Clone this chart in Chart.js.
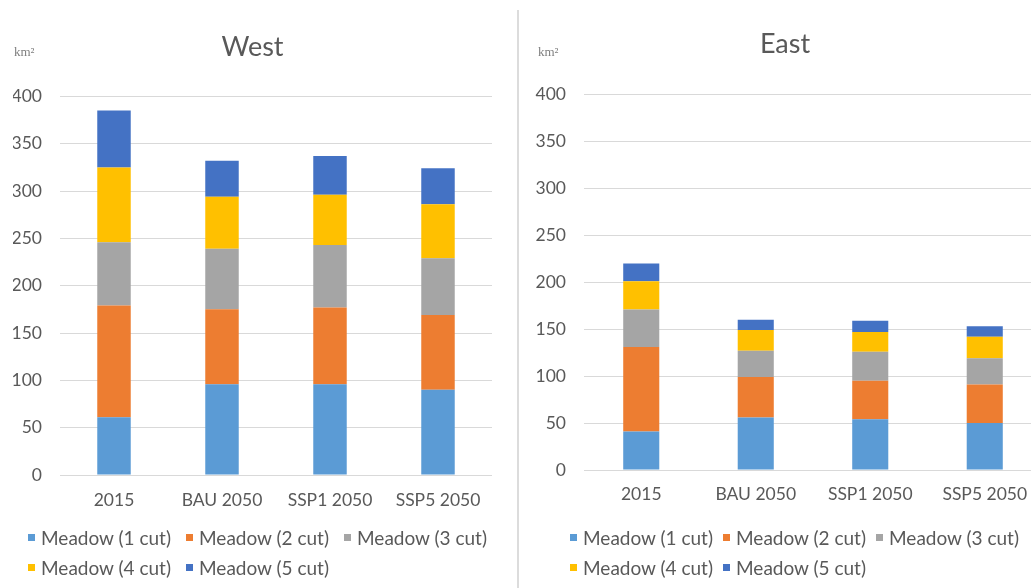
<!DOCTYPE html>
<html>
<head>
<meta charset="utf-8">
<title>Meadow area by cutting regime – West and East</title>
<script src="https://cdn.jsdelivr.net/npm/chart.js@4.4.1/dist/chart.umd.min.js"></script>
<style>
  html, body { margin: 0; padding: 0; background: #fff; overflow: hidden; }
  body { width: 1031px; height: 588px; position: relative; font-family: Lato, "Open Sans", sans-serif; }
  .panel { position: absolute; top: 0; height: 588px; }
  .panel canvas { position: absolute; left: 0; top: 0; }
  .divider { position: absolute; left: 517px; top: 10px; width: 2px; height: 578px; background: #dcdcdc; }
  .legend { position: absolute; display: flex; flex-wrap: wrap; color: #595959; font-size: 19px; }
  .legend .item { display: flex; align-items: center; height: 30px; white-space: nowrap; }
  .legend .box { width: 7px; height: 7px; margin-right: 6px; }
</style>
</head>
<body>
<div class="panel" id="westPanel" style="left:0;width:505px">
  <canvas id="westChart" width="505" height="588"></canvas>
  <div class="legend" id="westLegend" style="left:28px;top:522px;width:478px"></div>
</div>
<div class="divider"></div>
<div class="panel" id="eastPanel" style="left:520px;width:522px">
  <canvas id="eastChart" width="522" height="588"></canvas>
  <div class="legend" id="eastLegend" style="left:50px;top:522px;width:470px"></div>
</div>
<script>
// Scenario categories and meadow types
const categories = ['2015', 'BAU 2050', 'SSP1 2050', 'SSP5 2050'];
const seriesNames = ['Meadow (1 cut)', 'Meadow (2 cut)', 'Meadow (3 cut)', 'Meadow (4 cut)', 'Meadow (5 cut)'];
const seriesColors = ['#5B9BD5', '#ED7D31', '#A5A5A5', '#FFC000', '#4472C4'];

// Area in km² — West
const west1cut = [61, 96, 96, 90];
const west2cut = [118, 79, 81, 79];
const west3cut = [67, 64, 66, 60];
const west4cut = [79, 55, 53, 57];
const west5cut = [60, 38, 41, 38];

// Area in km² — East
const east1cut = [41, 56, 54, 50];
const east2cut = [90, 43, 41, 41];
const east3cut = [40, 28, 31, 28];
const east4cut = [30, 22, 21, 23];
const east5cut = [19, 11, 12, 11];

// Value axis ticks
const yMin = 0;
const yMax = 400;
const yStep = 50;
const unitText = 'km²';

const textGray = '#595959';
const gridGray = '#D9D9D9';

// Small unit caption drawn above the value axis
const unitCaption = {
  id: 'unitCaption',
  afterDraw(chart, args, opts) {
    const ctx = chart.ctx;
    ctx.save();
    ctx.font = '13px "Liberation Serif", serif';
    ctx.fillStyle = '#7f7f7f';
    ctx.textAlign = 'left';
    ctx.textBaseline = 'middle';
    ctx.fillText(opts.text, opts.x, chart.chartArea.top - opts.dy);
    ctx.restore();
  }
};

function buildChart(canvasId, legendId, title, seriesValues, cfg) {
  const datasets = seriesValues.map((vals, i) => ({
    label: seriesNames[i],
    data: vals,
    backgroundColor: seriesColors[i],
    borderWidth: 0,
    barPercentage: cfg.barPct,
    categoryPercentage: 1
  }));

  const chart = new Chart(document.getElementById(canvasId), {
    type: 'bar',
    data: { labels: categories, datasets },
    options: {
      responsive: false,
      animation: false,
      devicePixelRatio: 1,
      layout: { padding: { left: cfg.padLeft, right: cfg.padRight, top: 0, bottom: 0 } },
      plugins: {
        legend: { display: false },
        tooltip: { enabled: false },
        title: {
          display: true,
          text: title,
          color: textGray,
          font: { family: 'Lato', size: 27, weight: 'normal', lineHeight: 1.2 },
          padding: { top: cfg.titleTop, bottom: cfg.titleBottom }
        },
        unitCaption: { text: unitText, x: cfg.unitX, dy: cfg.unitDy }
      },
      scales: {
        x: {
          stacked: true,
          grid: { display: false, drawTicks: false },
          border: { display: false },
          ticks: { color: textGray, font: { family: 'Lato', size: 17.5 }, padding: cfg.xPad, maxRotation: 0, autoSkip: false },
          afterFit(scale) { scale.height = cfg.xHeight; }
        },
        y: {
          stacked: true,
          min: yMin,
          max: yMax,
          grid: { color: gridGray, lineWidth: 1, drawTicks: false },
          border: { display: false },
          ticks: { stepSize: yStep, color: textGray, font: { family: 'Lato', size: 17.5 }, padding: cfg.yPad },
          afterFit(scale) { scale.width = cfg.yWidth; }
        }
      }
    },
    plugins: [unitCaption]
  });

  // Legend built from the chart's datasets
  const legend = document.getElementById(legendId);
  chart.data.datasets.forEach(ds => {
    const item = document.createElement('div');
    item.className = 'item';
    item.style.marginRight = cfg.legendGap + 'px';
    const box = document.createElement('span');
    box.className = 'box';
    box.style.background = ds.backgroundColor;
    const txt = document.createElement('span');
    txt.textContent = ds.label;
    item.appendChild(box);
    item.appendChild(txt);
    legend.appendChild(item);
  });
  return chart;
}

function drawAll() {
  buildChart('westChart', 'westLegend', 'West',
    [west1cut, west2cut, west3cut, west4cut, west5cut],
    { barPct: 0.31, padLeft: 13, padRight: 13, titleTop: 31, titleBottom: 33, xPad: 15, xHeight: 113,
      yPad: 18, yWidth: 47, unitX: 14, unitDy: 44, legendGap: 15 });
  buildChart('eastChart', 'eastLegend', 'East',
    [east1cut, east2cut, east3cut, east4cut, east5cut],
    { barPct: 0.315, padLeft: 8, padRight: 0, titleTop: 28, titleBottom: 34, xPad: 14, xHeight: 118,
      yPad: 18, yWidth: 56, unitX: 18, unitDy: 42, legendGap: 10 });
}

if (document.fonts && document.fonts.load) {
  Promise.all([document.fonts.load('19px Lato'), document.fonts.load('27px Lato')])
    .then(drawAll, drawAll);
} else {
  drawAll();
}
</script>
</body>
</html>
